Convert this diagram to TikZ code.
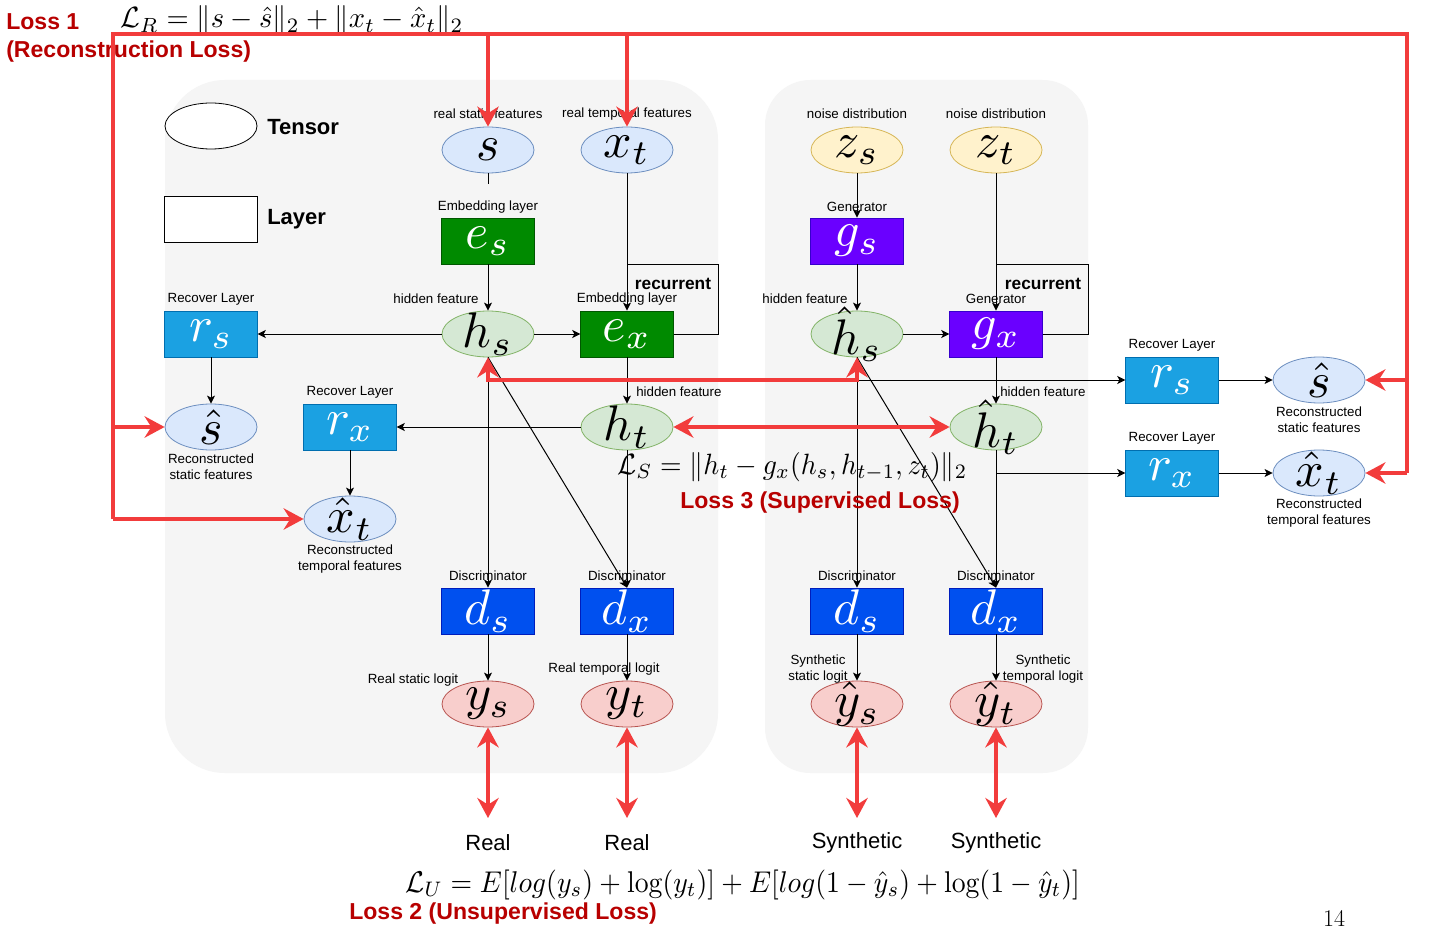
\documentclass[tikz,border=0pt]{standalone}
\usepackage{fontspec}
\usepackage{graphicx}
\newfontfamily\labfont{Liberation Sans}
\usetikzlibrary{arrows.meta,shapes.geometric,calc}
\newcommand\MBig[1]{\scalebox{3.75}{$#1$}}

\definecolor{lossred}{HTML}{F23C3C}
\definecolor{darkred}{HTML}{B80000}
\definecolor{panel}{HTML}{F5F5F5}
\definecolor{cB}{HTML}{DAE8FC}\definecolor{cBd}{HTML}{6C8EBF}
\definecolor{cY}{HTML}{FFF2CC}\definecolor{cYd}{HTML}{D6B656}
\definecolor{cG}{HTML}{D5E8D4}\definecolor{cGd}{HTML}{82B366}
\definecolor{cP}{HTML}{F8CECC}\definecolor{cPd}{HTML}{B85450}
\definecolor{rG}{HTML}{008A00}\definecolor{rGd}{HTML}{005700}
\definecolor{rV}{HTML}{6A00FF}\definecolor{rVd}{HTML}{3700CC}
\definecolor{rD}{HTML}{0050EF}\definecolor{rDd}{HTML}{001DBC}
\definecolor{rC}{HTML}{1BA1E2}\definecolor{rCd}{HTML}{006EAF}

\tikzset{
  tensor/.style={ellipse, minimum width=69pt, minimum height=34.5pt, inner sep=0pt, line width=0.6pt},
  layer/.style={rectangle, minimum width=69.5pt, minimum height=34.5pt, inner sep=0pt, line width=0.6pt},
  tblue/.style={tensor, fill=cB, draw=cBd},
  tyel/.style={tensor, fill=cY, draw=cYd},
  tgrn/.style={tensor, fill=cG, draw=cGd},
  tpnk/.style={tensor, fill=cP, draw=cPd},
  lgrn/.style={layer, fill=rG, draw=rGd},
  lvio/.style={layer, fill=rV, draw=rVd},
  ldis/.style={layer, fill=rD, draw=rDd},
  lrec/.style={layer, fill=rC, draw=rCd},
  mlab/.style={font=\fontsize{10}{12}\selectfont, inner sep=0pt},
  wlab/.style={mlab, text=white},
  small/.style={font=\labfont\fontsize{10}{12}\selectfont, inner sep=0pt, align=center},
  legtext/.style={font=\labfont\bfseries\fontsize{16.5}{19}\selectfont, inner sep=0pt},
  rectext/.style={font=\labfont\bfseries\fontsize{13}{15}\selectfont, inner sep=0pt},
  bigtext/.style={font=\labfont\fontsize{16.5}{19}\selectfont, inner sep=0pt},
  losstext/.style={font=\labfont\bfseries\fontsize{17.3}{20}\selectfont, text=darkred, inner sep=0pt},
  formula/.style={font=\fontsize{10}{12}\selectfont, inner sep=0pt},
  conn/.style={draw=black, line width=0.75pt},
  arr/.style={conn, -{Stealth[length=6pt,width=6pt,inset=1.5pt]}},
  rline/.style={draw=lossred, line width=3pt},
  rarr/.style={rline, -{Stealth[length=15pt,width=16pt,inset=5pt]}},
  rdbl/.style={rline, {Stealth[length=15pt,width=16pt,inset=5pt]}-{Stealth[length=15pt,width=16pt,inset=5pt]}},
}

\begin{document}
\begin{tikzpicture}[x=0.75pt,y=-0.75pt]
\fill[white] (0,0) rectangle (1431,952);
\useasboundingbox (0,0) rectangle (1431,952);

% panels
\fill[panel, rounded corners=45pt] (165,80) rectangle (718,773);
\fill[panel, rounded corners=34pt] (765,80) rectangle (1088,773);

% legend
\node[tensor, fill=white, draw=black] (legT) at (211,126) {};
\node[layer, fill=white, draw=black] (legL) at (211,219) {};
\node[legtext, anchor=west] (legTt) at (267,127) {Tensor};
\node[legtext, anchor=west] (legLt) at (267,219) {Layer};

% coordinates
\coordinate (loopL) at (718,265);
\coordinate (loopR) at (1088,265);
\coordinate (tl) at (113,34);
\coordinate (tr) at (1407,34);
\coordinate (bot) at (0,818);

% nodes: real side
\node[tblue, label={[mlab]center:\MBig{s}}] (s) at (488,150) {};
\node[tblue, label={[mlab]center:\MBig{x_t}}] (xt) at (627,150) {};
\node[lgrn, label={[wlab]center:\MBig{e_s}}] (es) at (488,241) {};
\node[tgrn, label={[mlab]center:\MBig{h_s}}] (hs) at (488,334) {};
\node[lgrn, label={[wlab]center:\MBig{e_x}}] (ex) at (627,334) {};
\node[tgrn, label={[mlab]center:\MBig{h_t}}] (ht) at (627,427) {};
\node[lrec, label={[wlab]center:\MBig{r_s}}] (rsL) at (211,334) {};
\node[tblue, label={[mlab]center:\MBig{\hat{s}}}] (shatL) at (211,427) {};
\node[lrec, label={[wlab]center:\MBig{r_x}}] (rxL) at (350,427) {};
\node[tblue, label={[mlab]center:\MBig{\hat{x}_t}}] (xhatL) at (350,519) {};
\node[ldis, label={[wlab]center:\MBig{d_s}}] (dsL) at (488,611) {};
\node[ldis, label={[wlab]center:\MBig{d_x}}] (dxL) at (627,611) {};
\node[tpnk, label={[mlab]center:\MBig{y_s}}] (ys) at (488,704) {};
\node[tpnk, label={[mlab]center:\MBig{y_t}}] (yt) at (627,704) {};

% nodes: synthetic side
\node[tyel, label={[mlab]center:\MBig{z_s}}] (zs) at (857,150) {};
\node[tyel, label={[mlab]center:\MBig{z_t}}] (zt) at (996,150) {};
\node[lvio, label={[wlab]center:\MBig{g_s}}] (gs) at (857,241) {};
\node[tgrn, label={[mlab]center:\MBig{\hat{h}_s}}] (hhs) at (857,334) {};
\node[lvio, label={[wlab]center:\MBig{g_x}}] (gx) at (996,334) {};
\node[tgrn, label={[mlab]center:\MBig{\hat{h}_t}}] (hht) at (996,427) {};
\node[lrec, label={[wlab]center:\MBig{r_s}}] (rsR) at (1172,380) {};
\node[tblue, label={[mlab]center:\MBig{\hat{s}}}] (shatR) at (1319,380) {};
\node[lrec, label={[wlab]center:\MBig{r_x}}] (rxR) at (1172,473) {};
\node[tblue, label={[mlab]center:\MBig{\hat{x}_t}}] (xhatR) at (1319,473) {};
\node[ldis, label={[wlab]center:\MBig{d_s}}] (dsR) at (857,611) {};
\node[ldis, label={[wlab]center:\MBig{d_x}}] (dxR) at (996,611) {};
\node[tpnk, label={[mlab]center:\MBig{\hat{y}_s}}] (yhs) at (857,704) {};
\node[tpnk, label={[mlab]center:\MBig{\hat{y}_t}}] (yht) at (996,704) {};

% black connectors (real)
\draw[conn, shorten >=25pt] (s) -- (es);
\draw[arr] (es) -- (hs);
\draw[arr] (xt) -- (ex);
\draw[conn] (ex.east) -| (loopL) -- (loopL -| xt);
\draw[arr] (hs) -- (ex);
\draw[arr] (hs) -- (rsL);
\draw[arr] (rsL) -- (shatL);
\draw[arr] (ex) -- (ht);
\draw[arr] (ht) -- (rxL);
\draw[arr] (rxL) -- (xhatL);
\draw[arr] (hs) -- (dsL);
\draw[arr] (hs.south) -- (dxL.north);
\draw[arr] (ht) -- (dxL);
\draw[arr] (dsL) -- (ys);
\draw[arr] (dxL) -- (yt);

% black connectors (synthetic)
\draw[arr] (zs) -- (gs);
\draw[arr] (gs) -- (hhs);
\draw[arr] (zt) -- (gx);
\draw[conn] (gx.east) -| (loopR) -- (loopR -| zt);
\draw[arr] (hhs) -- (gx);
\draw[arr] (gx) -- (hht);
\draw[arr] (hhs) -- (dsR);
\draw[arr] (hhs.south) -- (dxR.north);
\draw[arr] (hht) -- (dxR);
\draw[arr] (hhs |- rsR) -- (rsR);
\draw[arr] (hht |- rxR) -- (rxR);
\draw[arr] (rsR) -- (shatR);
\draw[arr] (rxR) -- (xhatR);
\draw[arr] (dsR) -- (yhs);
\draw[arr] (dxR) -- (yht);

% small labels
\node[small] (l1) at (488,114) {real static features};
\node[small] (l2) at (627,114) {real temporal features};
\node[small] (l3) at (857,114) {noise distribution};
\node[small] (l4) at (996,114) {noise distribution};
\node[small, fill=panel, inner sep=1pt] (l5) at (488,207) {Embedding layer};
\node[small] (l6) at (857,207) {Generator};
\node[small] (l7) at (436,299) {hidden feature};
\node[small] (l8) at (627,299) {Embedding layer};
\node[small] (l9) at (805,299) {hidden feature};
\node[small] (l10) at (996,299) {Generator};
\node[rectext] (rc1) at (673,284) {recurrent};
\node[rectext] (rc2) at (1043,284) {recurrent};
\node[small] (l11) at (211,299) {Recover Layer};
\node[small] (l12) at (350,392) {Recover Layer};
\node[small] (l13) at (1172,345) {Recover Layer};
\node[small] (l14) at (1172,438) {Recover Layer};
\node[small, anchor=west] (l15) at (636,392) {hidden feature};
\node[small, anchor=west] (l16) at (1000,392) {hidden feature};
\node[small] (l17) at (211,467) {Reconstructed\\static features};
\node[small] (l18) at (350,559) {Reconstructed\\temporal features};
\node[small] (l19) at (1319,420) {Reconstructed\\static features};
\node[small] (l20) at (1319,513) {Reconstructed\\temporal features};
\node[small] (l21) at (488,576) {Discriminator};
\node[small] (l22) at (627,576) {Discriminator};
\node[small] (l23) at (857,576) {Discriminator};
\node[small] (l24) at (996,576) {Discriminator};
\node[small] (l25) at (413,680) {Real static logit};
\node[small] (l26) at (604,669) {Real temporal logit};
\node[small] (l27) at (818,669) {Synthetic\\static logit};
\node[small] (l28) at (1043,669) {Synthetic\\temporal logit};

\node[bigtext] (b1) at (488,843) {Real};
\node[bigtext] (b2) at (627,843) {Real};
\node[bigtext] (b3) at (857,843) {Synthetic};
\node[bigtext] (b4) at (996,843) {Synthetic};

% formulas
\node[formula, anchor=base west] (LR) at (120,28) {\scalebox{2.14}[2.2]{$\mathcal{L}_R = \|s-\hat{s}\|_2 + \|x_t-\hat{x}_t\|_2$}};
\node[formula, anchor=base west] (LS) at (617,474) {\scalebox{2.08}[2.2]{$\mathcal{L}_S = \|h_t - g_x(h_s, h_{t-1}, z_t)\|_2$}};
\node[formula, anchor=base west] (LU) at (405,892) {\scalebox{2.08}[2.25]{$\mathcal{L}_U = E[log(y_s) + \log(y_t)] + E[log(1-\hat{y}_s) + \log(1-\hat{y}_t)]$}};

% loss titles
\node[losstext, anchor=west] (t1) at (6,22) {Loss 1};
\node[losstext, anchor=west] (t1b) at (6,52) {(Reconstruction Loss)};
\node[losstext, anchor=west] (t3) at (680,503) {Loss 3 (Supervised Loss)};
\node[losstext, anchor=west] (t2) at (349,914) {Loss 2 (Unsupervised Loss)};
\node[inner sep=0pt, font=\fontsize{18}{20}\selectfont] (pg) at (1334,918) {14};

% red loss connectors
\draw[rline, line join=miter] (xhatL -| tl) -- (tl) -- (tr) -- (xhatR -| tr);
\draw[rarr] (tl |- shatL) -- (shatL);
\draw[rarr] (tl |- xhatL) -- (xhatL);
\draw[rarr] (tr |- shatR) -- (shatR);
\draw[rarr] (tr |- xhatR) -- (xhatR);
\draw[rarr] (tl -| s) -- (s);
\draw[rarr] (tl -| xt) -- (xt);
\draw[rdbl] (hs.south) -- ++(0,23) -| (hhs.south);
\draw[rdbl] (ht) -- (hht);
\draw[rdbl] (ys) -- (ys |- bot);
\draw[rdbl] (yt) -- (yt |- bot);
\draw[rdbl] (yhs) -- (yhs |- bot);
\draw[rdbl] (yht) -- (yht |- bot);
\end{tikzpicture}
\end{document}
